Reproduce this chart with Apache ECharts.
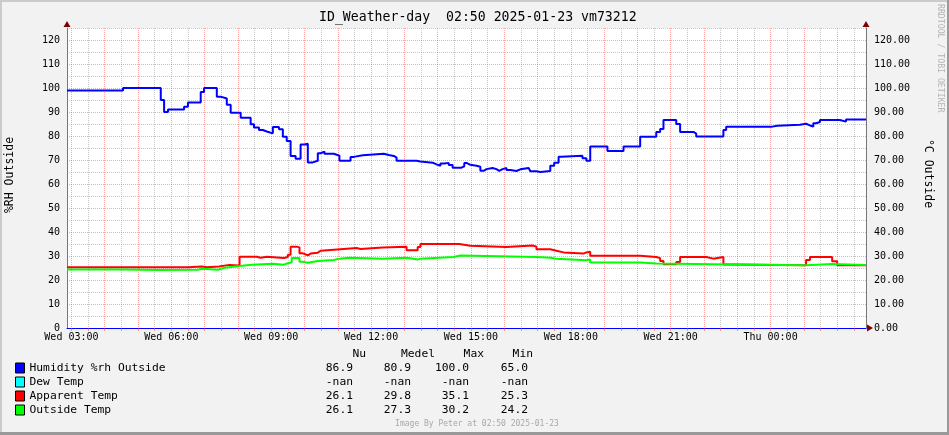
<!DOCTYPE html>
<html><head><meta charset="utf-8">
<script src="https://cdn.jsdelivr.net/npm/echarts@6/dist/echarts.min.js"></script>
<style>html,body{margin:0;padding:0;background:#f2f2f2}#c{width:949px;height:435px}</style>
</head><body><div id="c"></div>
<script>
// ---- data (x in minutes since Wed 00:00) ----
const xMin = 172, xMax = 1612;
const tickValues = [180, 360, 540, 720, 900, 1080, 1260, 1440];
const tickLabels = ['Wed 03:00','Wed 06:00','Wed 09:00','Wed 12:00','Wed 15:00','Wed 18:00','Wed 21:00','Thu 00:00'];
const yLeftLabels = [0,10,20,30,40,50,60,70,80,90,100,110,120];

const humT = [172,273,341,347,354,383,390,413,419,442,449,460,467,485,503,509,518,525,532,543,554,561,568,575,584,593,600,606,615,624,629,636,653,663,683,689,705,743,752,761,766,802,809,831,838,845,852,860,867,883,888,892,899,910,917,923,928,939,946,951,957,964,971,982,989,1004,1007,1018,1025,1043,1050,1058,1063,1101,1108,1115,1146,1175,1205,1234,1241,1247,1270,1277,1301,1306,1355,1360,1443,1452,1493,1504,1511,1517,1522,1529,1565,1576,1612];
const humV = [99,100,95,90,91,92.2,94,98.3,100,96.4,95.6,93,89.7,87.6,84.9,83.5,82.5,81.9,81.1,83.7,82.8,79.7,77.9,71.7,70.5,76.5,76.8,69,69.7,72.8,73.5,72.6,71.8,69.7,71.3,72,72.6,72.1,71.7,71,69.7,69.4,68.9,68.2,67.6,68.5,68.8,67.9,66.8,67.4,68.8,68,67.6,67.2,65.5,66.2,66.7,66.2,65.5,66.2,66.7,65.8,65.4,66.1,66.7,66.1,65.3,65,65.4,67.6,68.9,71.4,71.8,70.7,69.7,75.6,73.7,75.6,79.7,81.7,82.9,86.7,85,81.7,81,79.8,82.5,83.9,84.3,84.7,85.1,84.4,83.9,85.3,85.8,86.7,86,86.9,86.9];

const dewT = [];
const dewV = [];

const appT = [172,390,415,424,446,465,483,514,521,532,563,570,575,586,591,597,606,611,624,629,653,694,701,741,784,804,809,879,899,964,1011,1018,1043,1054,1067,1103,1108,1115,1205,1234,1241,1247,1270,1277,1324,1337,1355,1373,1504,1511,1551,1560,1612];
const appV = [25.3,25.6,25.3,25.6,26.3,26.0,29.7,29.3,29.7,29.2,29.6,30.5,33.9,33.6,31.1,30.3,31.0,31.4,32.2,32.6,33.3,32.9,33.5,33.9,32.4,33.7,35.0,34.3,33.8,34.4,33.9,32.8,32.2,31.5,31.0,31.5,31.8,30.1,29.6,29.1,27.9,26.6,27.5,29.6,28.9,29.6,26.5,26.1,28.3,29.6,27.8,26.1,26.1];

const outT = [172,273,339,408,415,444,456,483,505,543,563,570,577,591,597,606,624,653,663,681,741,784,804,809,869,881,1018,1043,1054,1108,1115,1205,1234,1373,1504,1551,1612];
const outV = [24.4,24.2,24.3,24.7,24.3,25.1,25.8,26.4,26.8,26.4,27.0,27.4,29.2,27.6,27.2,27.9,28.3,28.9,29.3,28.9,29.3,28.5,28.9,29.6,30.2,29.6,29.3,28.9,28.2,28.5,27.3,26.9,26.5,26.1,26.7,26.2,26.1];

const seriesNames = ['Humidity %rh Outside','Dew Temp','Apparent Temp','Outside Temp'];
const statsHeader = ['Nu','Medel','Max','Min'];
const statsHum = ['86.9','80.9','100.0','65.0'];
const statsDew = ['-nan','-nan','-nan','-nan'];
const statsApp = ['26.1','29.8','35.1','25.3'];
const statsOut = ['26.1','27.3','30.2','24.2'];

const titleText = 'ID_Weather-day  02:50 2025-01-23 vm73212';
const leftTitle = '%RH Outside';
const rightTitle = '°C Outside';
const footer = 'Image By Peter at 02:50 2025-01-23';
const sideText = 'RRDTOOL / TOBI OETIKER';

// ---- styling ----
const FONT = '"DejaVu Sans Mono", monospace';
const MAJOR = 'rgba(255,60,60,0.45)';
const MINOR = 'rgba(130,130,130,0.45)';
const zip = (t, v) => t.map((x, i) => [x, v[i]]);

// half-hour grid positions
const gridTimes = [];
for (let t = 180; t < xMax; t += 30) gridTimes.push(t);

const chart = echarts.init(document.getElementById('c'), null, {renderer: 'canvas'});

function mkSeries(name, t, v, color, yIdx) {
  return {
    name, type: 'line', step: 'end', data: zip(t, v), yAxisIndex: yIdx,
    showSymbol: false, symbol: 'none', color: color,
    lineStyle: {color: color, width: 2}, animation: false, silent: true
  };
}

const valCols = [353, 411, 469, 528];
const hdrCols = [366, 435, 484, 533];
const rowsY = [368, 382, 396, 410];
const statRows = [statsHum, statsDew, statsApp, statsOut];

const graphics = [
  {id:'bt', type:'rect', shape:{x:0,y:0,width:949,height:2}, style:{fill:'#cbcbcb'}, silent:true},
  {id:'bl', type:'rect', shape:{x:0,y:0,width:2,height:435}, style:{fill:'#cbcbcb'}, silent:true},
  {id:'br', type:'rect', shape:{x:947,y:0,width:2,height:435}, style:{fill:'#999999'}, silent:true},
  {id:'bb', type:'rect', shape:{x:0,y:432,width:949,height:3}, style:{fill:'#999999'}, silent:true},
  {id:'lt', type:'text', x:10, y:175, rotation:Math.PI/2, style:{text:leftTitle, fontFamily:FONT, fontSize:11.5, fill:'#000', align:'center', verticalAlign:'middle'}},
  {id:'rt', type:'text', x:927.5, y:173.5, rotation:-Math.PI/2, style:{text:rightTitle, fontFamily:FONT, fontSize:11.5, fill:'#000', align:'center', verticalAlign:'middle'}},
  {id:'sd', type:'text', x:940, y:4, rotation:-Math.PI/2, style:{text:sideText, fontFamily:FONT, fontSize:8.2, fill:'#b4b4b4', align:'left', verticalAlign:'middle'}},
  {id:'ft', type:'text', x:477, y:424, style:{text:footer, fontFamily:FONT, fontSize:8, fill:'#a8a8a8', align:'center', verticalAlign:'middle'}}
];
statsHeader.forEach((h, i) => graphics.push({id:'h'+i, type:'text', x:hdrCols[i], y:354,
  style:{text:h, fontFamily:FONT, fontSize:11.3, fill:'#000', align:'right', verticalAlign:'middle'}}));
statRows.forEach((row, r) => row.forEach((s, i) => graphics.push({id:'s'+r+'_'+i, type:'text', x:valCols[i], y:rowsY[r],
  style:{text:s, fontFamily:FONT, fontSize:11.3, fill:'#000', align:'right', verticalAlign:'middle'}})));

const option = {
  animation: false,
  backgroundColor: '#f2f2f2',
  textStyle: {fontFamily: FONT},
  title: {text: titleText, left: 319, top: 11, padding: 0,
    textStyle: {fontFamily: FONT, fontSize: 13.2, fontWeight: 'normal', color: '#000'}},
  legend: {
    orient: 'vertical', left: 15, top: 361, padding: 0, itemGap: 0,
    itemWidth: 9, itemHeight: 10, icon: 'rect', selectedMode: false,
    itemStyle: {borderColor: '#000', borderWidth: 1},
    textStyle: {fontFamily: FONT, fontSize: 11.3, color: '#000', lineHeight: 14},
    data: seriesNames
  },
  grid: {left: 67, right: 83, top: 28, bottom: 107, show: true, backgroundColor: '#ffffff', borderWidth: 0},
  xAxis: {
    type: 'value', min: xMin, max: xMax,
    axisLine: {show: true, onZero: false, lineStyle: {color: '#0000ff', width: 1}},
    axisTick: {show: true, customValues: gridTimes, length: 3, lineStyle: {color: 'rgba(255,60,60,0.5)'}},
    axisLabel: {customValues: tickValues, formatter: v => tickLabels[tickValues.indexOf(Math.round(v))] || '',
      fontFamily: FONT, fontSize: 10, color: '#000', margin: 4},
    splitLine: {show: true, lineStyle: {color: [MAJOR, MINOR], type: [1, 1], width: 1}}
  },
  yAxis: [
    {type: 'value', min: 0, max: 125, interval: 5, position: 'left',
      axisLine: {show: true, lineStyle: {color: '#777', width: 1}},
      axisTick: {show: false},
      axisLabel: {formatter: v => (yLeftLabels.indexOf(v) >= 0 ? String(v) : ''), margin: 7,
        fontFamily: FONT, fontSize: 10, color: '#000', showMaxLabel: true},
      splitLine: {show: true, lineStyle: {color: [MAJOR, MINOR], type: [1, 1], width: 1}}},
    {type: 'value', min: 0, max: 125, interval: 5, position: 'right',
      axisLine: {show: true, lineStyle: {color: '#777', width: 1}},
      axisTick: {show: false},
      axisLabel: {formatter: v => (yLeftLabels.indexOf(v) >= 0 ? v.toFixed(2) : ''), margin: 8,
        fontFamily: FONT, fontSize: 10, color: '#000'},
      splitLine: {show: false}}
  ],
  series: [
    mkSeries(seriesNames[0], humT, humV, '#0000ff', 0),
    mkSeries(seriesNames[1], dewT, dewV, '#00ffff', 1),
    mkSeries(seriesNames[2], appT, appV, '#ff0000', 1),
    mkSeries(seriesNames[3], outT, outV, '#00ff00', 1)
  ],
  graphic: graphics
};
chart.setOption(option);

// axis arrows, placed from the axes' own pixel mapping
const p0 = chart.convertToPixel({xAxisIndex: 0, yAxisIndex: 0}, [xMin, 0]);
const p1 = chart.convertToPixel({xAxisIndex: 0, yAxisIndex: 0}, [xMax, 125]);
const L = Math.round(p0[0]), B = Math.round(p0[1]), R = Math.round(p1[0]), T = Math.round(p1[1]);
const AR = '#7f0000';
chart.setOption({graphic: [
  {id:'a1', type:'polygon', shape:{points:[[L-3.5,T-1],[L+3.5,T-1],[L,T-7]]}, style:{fill:AR}, silent:true},
  {id:'a2', type:'polygon', shape:{points:[[R-3.5,T-1],[R+3.5,T-1],[R,T-7]]}, style:{fill:AR}, silent:true},
  {id:'a3', type:'polygon', shape:{points:[[R+1,B-3.5],[R+1,B+3.5],[R+7,B]]}, style:{fill:AR}, silent:true}
]});
</script></body></html>
